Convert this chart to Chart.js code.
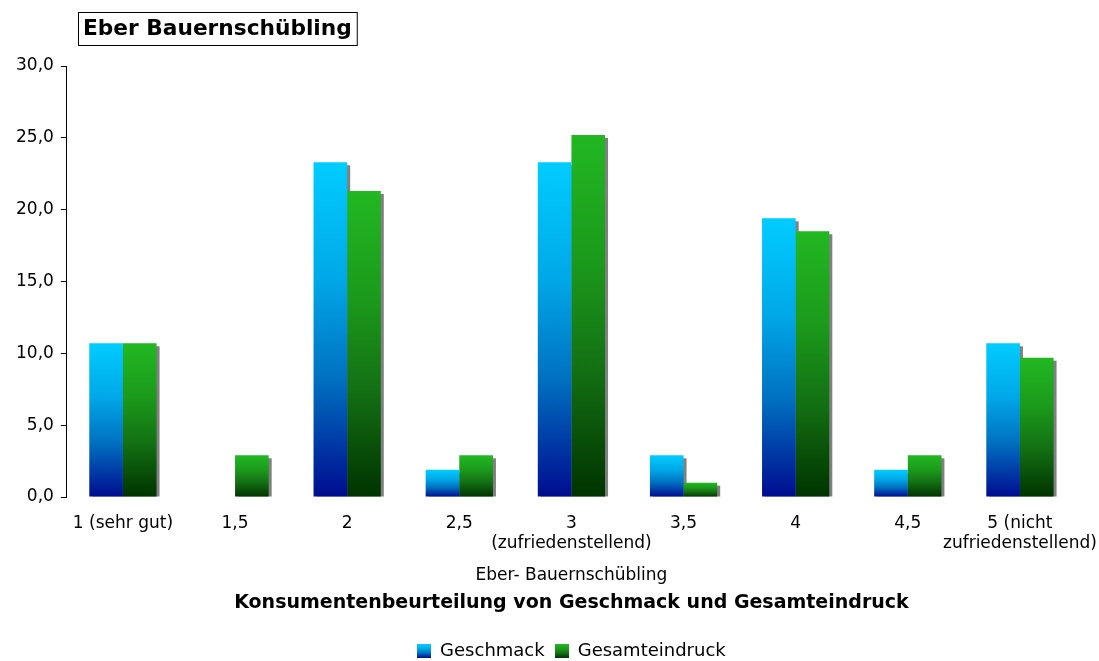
<!DOCTYPE html>
<html>
<head>
<meta charset="utf-8">
<script src="https://cdn.jsdelivr.net/npm/chart.js@4/dist/chart.umd.min.js"></script>
<style>
  html, body { margin: 0; padding: 0; background: #fff; }
  #wrap { width: 1099px; height: 661px; position: relative; }
</style>
</head>
<body>
<div id="wrap"><canvas id="c"></canvas></div>
<script>
const chartTitle = 'Eber Bauernschübling';
const categories = ['1 (sehr gut)', '1,5', '2', '2,5', ['3', '(zufriedenstellend)'], '3,5', '4', '4,5', ['5 (nicht', 'zufriedenstellend)']];
const geschmack = [10.7, 0, 23.3, 1.9, 23.3, 2.9, 19.4, 1.9, 10.7];
const gesamteindruck = [10.7, 2.9, 21.3, 2.9, 25.2, 1.0, 18.5, 2.9, 9.7];
const seriesNames = ['Geschmack', 'Gesamteindruck'];
const yTickLabels = ['0,0', '5,0', '10,0', '15,0', '20,0', '25,0', '30,0'];
const xAxisTitle = 'Eber- Bauernschübling';
const bottomTitle = 'Konsumentenbeurteilung von Geschmack und Gesamteindruck';

const FONT = 'DejaVu Sans';
const gradPos = [0, 0.35, 0.65, 1];
const gradStops = [
  ['#00CCFF', '#00A8E8', '#0070C0', '#000C90'],
  ['#22B822', '#1B9A1B', '#137013', '#003300']
];

function fillStops(g, dsIndex) {
  gradStops[dsIndex].forEach((c, k) => g.addColorStop(gradPos[k], c));
  return g;
}

function barGradient(ctx, dsIndex) {
  const chart = ctx.chart;
  const ys = chart.scales && chart.scales.y;
  const stops = gradStops[dsIndex];
  if (!ys || ctx.type !== 'data' || ys.top === undefined) return stops[0];
  const v = ctx.raw || 0;
  const top = ys.getPixelForValue(v);
  const bot = ys.getPixelForValue(0);
  if (!isFinite(top) || !isFinite(bot) || top === bot) return stops[0];
  return fillStops(chart.ctx.createLinearGradient(0, top, 0, bot), dsIndex);
}

function legendSwatch(dsIndex) {
  const cv = document.createElement('canvas');
  cv.width = 14; cv.height = 14;
  const c = cv.getContext('2d');
  c.fillStyle = fillStops(c.createLinearGradient(0, 0, 0, 14), dsIndex);
  c.fillRect(0, 0, 14, 14);
  return cv;
}

const shadowPlugin = {
  id: 'barShadow',
  beforeDatasetsDraw(chart) {
    const ctx = chart.ctx;
    const area = chart.chartArea;
    ctx.save();
    ctx.beginPath();
    ctx.rect(area.left, area.top, area.right - area.left + 10, area.bottom - area.top);
    ctx.clip();
    ctx.fillStyle = '#808080';
    chart.data.datasets.forEach((ds, i) => {
      const meta = chart.getDatasetMeta(i);
      meta.data.forEach((el, j) => {
        if (!ds.data[j]) return;
        const p = el.getProps(['x', 'y', 'base', 'width'], true);
        ctx.fillRect(p.x - p.width / 2 + 3, p.y + 3, p.width, p.base - p.y - 3);
      });
    });
    ctx.restore();
  }
};

const boxedTitlePlugin = {
  id: 'boxedTitle',
  afterDraw(chart) {
    const ctx = chart.ctx;
    ctx.save();
    ctx.font = 'bold 21.7px "' + FONT + '"';
    const w = ctx.measureText(chartTitle).width;
    const x0 = 78, y0 = 12, padX = 5, h = 33;
    ctx.fillStyle = '#fff';
    ctx.fillRect(x0, y0, w + padX * 2, h);
    ctx.strokeStyle = '#000';
    ctx.lineWidth = 1;
    ctx.strokeRect(x0 + 0.5, y0 + 0.5, w + padX * 2, h);
    ctx.fillStyle = '#000';
    ctx.textBaseline = 'middle';
    ctx.textAlign = 'left';
    ctx.fillText(chartTitle, x0 + padX, y0 + h / 2 + 1);
    ctx.restore();
  }
};

new Chart(document.getElementById('c'), {
  type: 'bar',
  data: {
    labels: categories,
    datasets: [
      { label: seriesNames[0], data: geschmack, backgroundColor: (c) => barGradient(c, 0) },
      { label: seriesNames[1], data: gesamteindruck, backgroundColor: (c) => barGradient(c, 1) }
    ]
  },
  options: {
    responsive: true,
    maintainAspectRatio: false,
    animation: false,
    devicePixelRatio: 1,
    layout: { padding: { left: 9, right: 23, top: 66, bottom: -9 } },
    datasets: { bar: { categoryPercentage: 0.6, barPercentage: 1.0, borderWidth: 0 } },
    scales: {
      x: {
        grid: { display: false, drawTicks: true, tickLength: 16 },
        border: { display: false },
        ticks: { color: '#000', font: { family: FONT, size: 17 }, padding: 0, maxRotation: 0, autoSkip: false },
        title: { display: true, text: xAxisTitle, color: '#000', font: { family: FONT, size: 17 }, padding: { top: 12, bottom: 0 } }
      },
      y: {
        min: 0, max: 30,
        grid: { drawOnChartArea: false, tickLength: 6, color: '#000' },
        border: { display: true, color: '#000', width: 1 },
        ticks: {
          stepSize: 5, color: '#000', padding: 7,
          font: { family: FONT, size: 17 },
          callback: (v, i) => yTickLabels[i]
        }
      }
    },
    plugins: {
      title: {
        display: true, text: bottomTitle, position: 'bottom', weight: 500, fullSize: false,
        color: '#000', font: { family: FONT, size: 19, weight: 'bold' },
        padding: { top: 5, bottom: 18 }
      },
      legend: {
        position: 'bottom', fullSize: false,
        labels: {
          color: '#000',
          font: { family: FONT, size: 18 },
          usePointStyle: true,
          boxWidth: 14, boxHeight: 14, pointStyleWidth: 14,
          padding: 10,
          generateLabels: (chart) => chart.data.datasets.map((ds, i) => ({
            text: ds.label, pointStyle: legendSwatch(i), fillStyle: gradStops[i][0],
            strokeStyle: 'transparent', lineWidth: 0, datasetIndex: i, hidden: false
          }))
        }
      },
      tooltip: { enabled: false }
    }
  },
  plugins: [shadowPlugin, boxedTitlePlugin]
});
</script>
</body>
</html>
